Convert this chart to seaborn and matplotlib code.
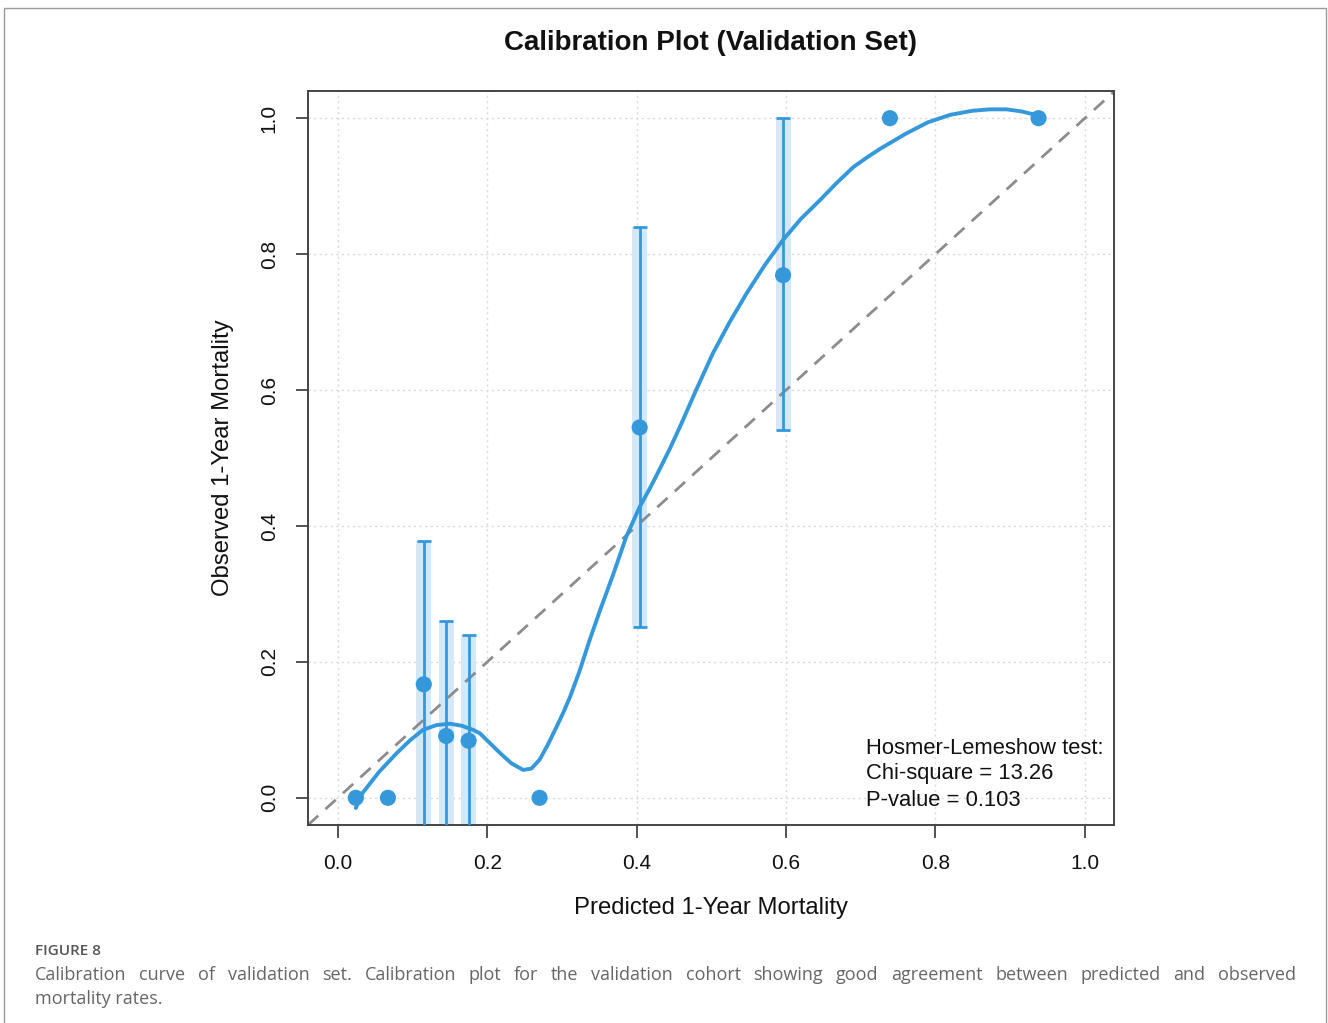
import matplotlib
matplotlib.use("Agg")
import matplotlib.pyplot as plt
import seaborn as sns
import pandas as pd
from matplotlib.patches import Rectangle

# ---------------- data ----------------
pred = [0.024, 0.067, 0.115, 0.145, 0.175, 0.270, 0.404, 0.596, 0.739, 0.938]
obs = [0.0, 0.0, 0.167, 0.091, 0.084, 0.0, 0.545, 0.769, 1.0, 1.0]

ci_x = [0.115, 0.145, 0.175, 0.404, 0.596]
ci_low = [-0.06, -0.06, -0.06, 0.252, 0.541]
ci_high = [0.378, 0.260, 0.239, 0.840, 1.0]

curve_x = [0.024, 0.033, 0.055, 0.079, 0.097, 0.114, 0.132, 0.150, 0.166, 0.181,
           0.190, 0.203, 0.217, 0.232, 0.248, 0.259, 0.270, 0.281, 0.293, 0.302,
           0.311, 0.324, 0.337, 0.351, 0.369, 0.386, 0.404, 0.418, 0.431, 0.445,
           0.458, 0.480, 0.502, 0.524, 0.547, 0.571, 0.596, 0.620, 0.645, 0.668,
           0.690, 0.708, 0.726, 0.760, 0.790, 0.820, 0.850, 0.873, 0.895, 0.915,
           0.930, 0.938]
curve_y = [-0.015, 0.007, 0.038, 0.066, 0.085, 0.100, 0.107, 0.109, 0.106, 0.100,
           0.095, 0.081, 0.066, 0.051, 0.041, 0.043, 0.056, 0.078, 0.105, 0.126,
           0.149, 0.188, 0.232, 0.276, 0.330, 0.384, 0.428, 0.456, 0.484, 0.515,
           0.546, 0.601, 0.654, 0.699, 0.742, 0.783, 0.821, 0.852, 0.879, 0.905,
           0.928, 0.942, 0.955, 0.977, 0.994, 1.005, 1.011, 1.013, 1.013, 1.010,
           1.006, 1.001]

xticks = [0.0, 0.2, 0.4, 0.6, 0.8, 1.0]
yticks = [0.0, 0.2, 0.4, 0.6, 0.8, 1.0]
tick_labels = ["0.0", "0.2", "0.4", "0.6", "0.8", "1.0"]

title = "Calibration Plot (Validation Set)"
xlabel = "Predicted 1-Year Mortality"
ylabel = "Observed 1-Year Mortality"
hl_lines = ["Hosmer-Lemeshow test:", "Chi-square = 13.26", "P-value = 0.103"]
fig_label = "FIGURE 8"
caption1 = ("Calibration curve of validation set. Calibration plot for the validation cohort "
            "showing good agreement between predicted and observed")
caption2 = "mortality rates."

# ---------------- styling ----------------
sns.set_theme(style="white")
plt.rcParams['font.family'] = ['Liberation Sans', 'DejaVu Sans']

BLUE = "#3498DB"
LIGHT = "#D4E8F7"

W, H = 1328, 1023
fig = plt.figure(figsize=(W / 100, H / 100), dpi=100)
fig.patch.set_facecolor("white")

def fx(px):
    return px / W

def fy(py):
    return 1 - py / H

ax = fig.add_axes([fx(308), fy(825), fx(1114) - fx(308), fy(91) - fy(825)])
ax.set_xlim(-0.04, 1.039)
ax.set_ylim(-0.04, 1.04)

# grid
for t in xticks:
    ax.axvline(t, color="#d9d9d9", lw=1.0, ls=(0, (1.5, 2.5)), zorder=0)
for t in yticks:
    ax.axhline(t, color="#d9d9d9", lw=1.0, ls=(0, (1.5, 2.5)), zorder=0)

# CI bands
for x, lo, hi in zip(ci_x, ci_low, ci_high):
    ax.add_patch(Rectangle((x - 0.01, lo), 0.02, hi - lo, facecolor=LIGHT,
                           edgecolor="none", zorder=1))

# diagonal reference
ax.plot([-0.04, 1.04], [-0.04, 1.04], color="#8c8c8c", lw=2.0,
        ls=(0, (5, 3.5)), zorder=2)

# error bars
ci_mid = [(lo + hi) / 2 for lo, hi in zip(ci_low, ci_high)]
yerr = [[m - lo for m, lo in zip(ci_mid, ci_low)],
        [hi - m for m, hi in zip(ci_mid, ci_high)]]
ax.errorbar(ci_x, ci_mid, yerr=yerr, fmt="none", ecolor=BLUE, elinewidth=2.0,
            capsize=4.8, capthick=2.0, zorder=3)

# smooth curve
curve_df = pd.DataFrame({"x": curve_x, "y": curve_y})
sns.lineplot(data=curve_df, x="x", y="y", sort=False, color=BLUE, lw=2.8,
             ax=ax, zorder=4)
ax.lines[-1].set_solid_joinstyle("round")
ax.lines[-1].set_solid_capstyle("round")

# points
pts = pd.DataFrame({"pred": pred, "obs": obs})
sns.scatterplot(data=pts, x="pred", y="obs", color=BLUE, s=135, edgecolor="none",
                ax=ax, zorder=5)

# annotation
for i, line in enumerate(hl_lines):
    fig.text(fx(866), fy(748 + 26 * i), line, fontsize=15.8, color="#111111",
             ha="left", va="center")

ax.set_xticks(xticks)
ax.set_xticklabels(tick_labels)
ax.set_yticks(yticks)
ax.set_yticklabels(tick_labels, rotation=90, va="center")
ax.tick_params(axis="both", direction="out", length=9, width=1.3, color="#444444",
               labelsize=15, labelcolor="#111111", bottom=True, left=True)
ax.tick_params(axis="x", pad=12)
ax.tick_params(axis="y", pad=12)
for s in ax.spines.values():
    s.set_color("#444444")
    s.set_linewidth(1.4)
ax.set_xlabel("")
ax.set_ylabel("")

fig.text(fx(711), fy(908), xlabel, fontsize=17.2, ha="center", va="center", color="#111111")
fig.text(fx(223), fy(458), ylabel, fontsize=17.2, ha="center", va="center",
         rotation=90, color="#111111")
fig.text(fx(711), fy(43), title, fontsize=20, fontweight="bold", ha="center",
         va="center", color="#111111")

# outer frame
fig.add_artist(Rectangle((fx(4), fy(1030)), fx(1326) - fx(4), fy(8) - fy(1030),
                         transform=fig.transFigure, fill=False, edgecolor="#9a9a9a",
                         lw=1.0))

# caption
cap_font = ['Open Sans', 'DejaVu Sans']
fig.text(fx(35), fy(951), fig_label, fontsize=11, color="#555555", ha="left",
         va="center", family=cap_font, fontweight="semibold")

renderer = fig.canvas.get_renderer()
words = caption1.split(" ")
objs = [fig.text(0, fy(975), w, fontsize=13, color="#666666", ha="left",
                 va="center", family=cap_font) for w in words]
widths = [o.get_window_extent(renderer).width for o in objs]
left, right = 35, 1296
gap = (right - left - sum(widths)) / (len(words) - 1)
xpos = left
for o, wdt in zip(objs, widths):
    o.set_x(fx(xpos))
    xpos += wdt + gap
fig.text(fx(35), fy(999), caption2, fontsize=13, color="#666666", ha="left",
         va="center", family=cap_font)

fig.savefig("out.png", dpi=100, facecolor="white")
